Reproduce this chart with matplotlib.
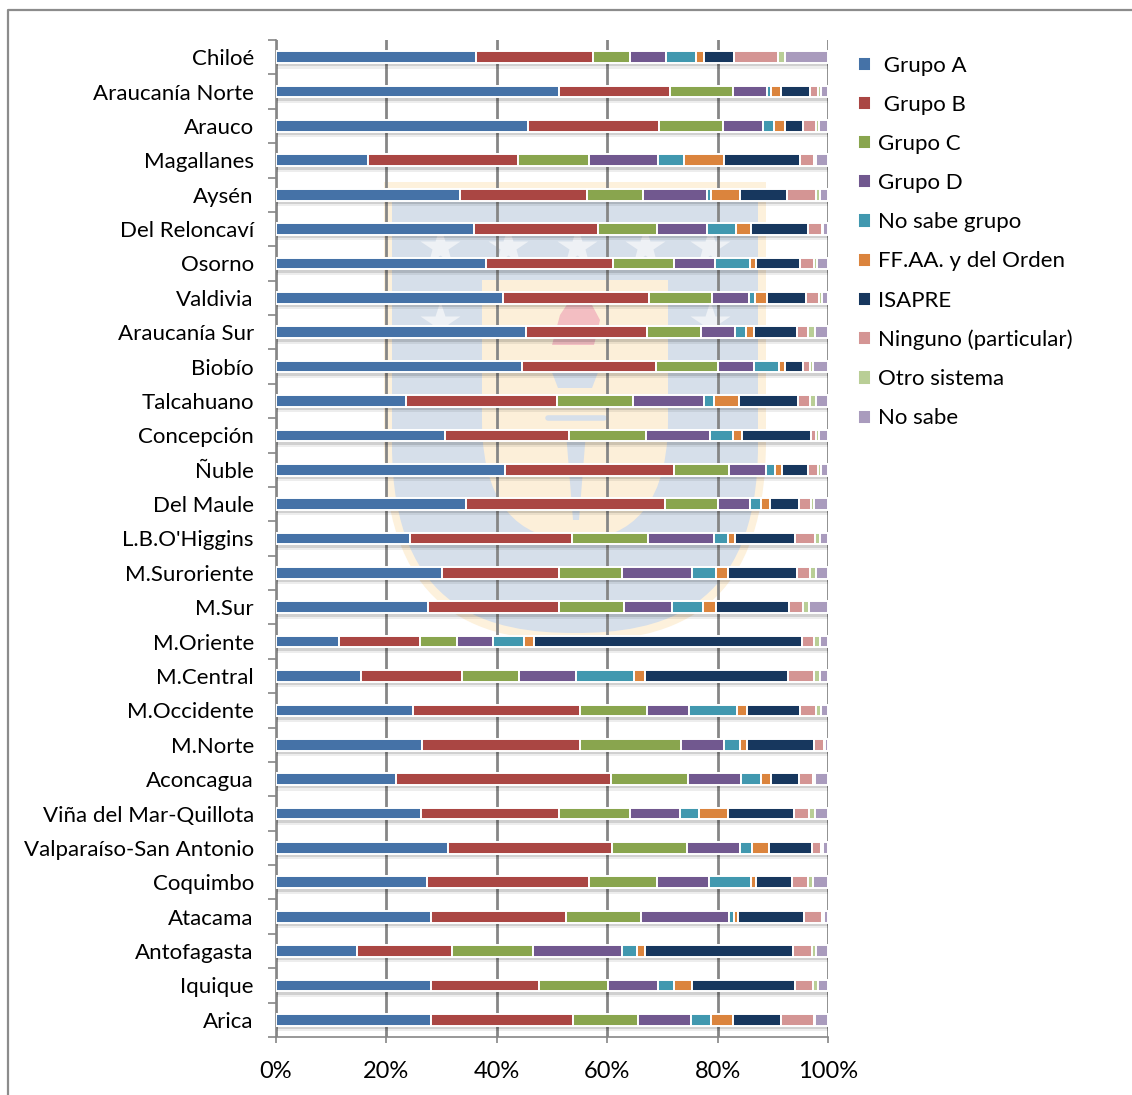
import numpy as np
import matplotlib
matplotlib.use("Agg")
import matplotlib.pyplot as plt
from matplotlib.path import Path
from matplotlib.patches import PathPatch

plt.rcParams["font.family"] = ["Lato", "DejaVu Sans"]

regions = [
    "Chiloé", "Araucanía Norte", "Arauco", "Magallanes", "Aysén",
    "Del Reloncaví", "Osorno", "Valdivia", "Araucanía Sur", "Biobío",
    "Talcahuano", "Concepción", "Ñuble", "Del Maule", "L.B.O'Higgins",
    "M.Suroriente", "M.Sur", "M.Oriente", "M.Central", "M.Occidente",
    "M.Norte", "Aconcagua", "Viña del Mar-Quillota", "Valparaíso-San Antonio",
    "Coquimbo", "Atacama", "Antofagasta", "Iquique", "Arica",
]

grupo_a = [36.3, 51.3, 45.6, 16.7, 33.4, 35.9, 38.1, 41.1, 45.3, 44.5,
           23.6, 30.6, 41.4, 34.4, 24.2, 30.1, 27.6, 11.5, 15.4, 24.8,
           26.5, 21.8, 26.3, 31.1, 27.3, 28.1, 14.7, 28.1, 28.1]
grupo_b = [21.1, 20.0, 23.7, 27.2, 23.0, 22.5, 23.0, 26.5, 21.9, 24.3,
           27.3, 22.5, 30.7, 36.1, 29.5, 21.1, 23.6, 14.5, 18.3, 30.2,
           28.6, 38.9, 25.0, 29.7, 29.4, 24.5, 17.1, 19.5, 25.7]
grupo_c = [6.7, 11.4, 11.6, 12.8, 10.0, 10.6, 11.0, 11.4, 9.8, 11.3,
           13.7, 14.0, 9.9, 9.6, 13.7, 11.5, 11.9, 6.7, 10.4, 12.3,
           18.2, 13.9, 12.9, 13.6, 12.3, 13.6, 14.8, 12.6, 11.8]
grupo_d = [6.5, 6.3, 7.3, 12.5, 11.6, 9.1, 7.4, 6.6, 6.2, 6.5,
           12.9, 11.5, 6.8, 5.7, 11.9, 12.7, 8.7, 6.7, 10.3, 7.6,
           7.9, 9.7, 9.0, 9.6, 9.4, 15.8, 16.1, 9.0, 9.6]
no_sabe_grupo = [5.5, 0.7, 2.1, 4.7, 0.8, 5.3, 6.3, 1.2, 2.0, 4.6,
                 1.8, 4.1, 1.6, 2.1, 2.5, 4.4, 5.5, 5.6, 10.5, 8.7,
                 2.8, 3.5, 3.5, 2.3, 7.6, 1.0, 2.7, 2.9, 3.6]
ffaa = [1.4, 1.8, 1.9, 7.2, 5.2, 2.7, 1.2, 2.1, 1.4, 1.0,
        4.6, 1.8, 1.3, 1.6, 1.4, 2.1, 2.5, 1.8, 2.0, 1.8,
        1.4, 1.8, 5.2, 3.1, 0.9, 0.7, 1.5, 3.3, 3.9]
isapre = [5.4, 5.2, 3.3, 13.9, 8.5, 10.2, 8.0, 7.2, 7.7, 3.2,
          10.7, 12.4, 4.7, 5.3, 10.9, 12.4, 13.2, 48.4, 25.9, 9.6,
          12.0, 5.2, 11.9, 7.7, 6.6, 11.9, 26.8, 18.6, 8.8]
ninguno = [8.1, 1.5, 2.4, 2.4, 5.4, 2.6, 2.4, 2.3, 2.1, 1.3,
           2.1, 0.9, 1.8, 2.1, 3.5, 2.5, 2.4, 2.3, 4.7, 2.9,
           1.8, 2.5, 2.8, 1.6, 2.9, 3.4, 3.4, 3.3, 6.0]
otro_sistema = [1.2, 0.5, 0.5, 0.5, 0.7, 0.2, 0.6, 0.5, 1.2, 0.6,
                1.2, 0.6, 0.5, 0.5, 1.0, 1.0, 1.2, 1.0, 1.1, 0.8,
                0.2, 0.3, 1.0, 0.4, 0.9, 0.3, 0.7, 0.9, 0.2]
no_sabe = [7.8, 1.3, 1.6, 2.1, 1.4, 0.9, 2.0, 1.1, 2.4, 2.7,
           2.1, 1.6, 1.3, 2.6, 1.4, 2.2, 3.4, 1.5, 1.4, 1.3,
           0.6, 2.4, 2.4, 0.9, 2.7, 0.7, 2.2, 1.8, 2.3]

series_names = [" Grupo A", " Grupo B", "Grupo C", "Grupo D", "No sabe grupo",
                "FF.AA. y del Orden", "ISAPRE", "Ninguno (particular)",
                "Otro sistema", "No sabe"]
series = [grupo_a, grupo_b, grupo_c, grupo_d, no_sabe_grupo, ffaa, isapre,
          ninguno, otro_sistema, no_sabe]
colors = ["#4572A7", "#AA4643", "#89A54E", "#71588F", "#4198AF",
          "#DB843D", "#17375E", "#D49594", "#B9CE96", "#A99BBD"]

W, H = 1132, 1095
fig = plt.figure(figsize=(W / 100, H / 100), dpi=100)

# background layer in pixel coordinates: chart frame and faint crest
bg = fig.add_axes([0, 0, 1, 1], zorder=-1)
bg.set_xlim(0, W)
bg.set_ylim(H, 0)
bg.axis("off")
bg.plot([8, 8, W + 5], [H + 5, 10, 10], color="#8C8C8C", lw=1.6)


def shield(x0, x1, ytop, yside, ybot):
    xm = (x0 + x1) / 2
    verts = [(x0, ytop), (x1, ytop), (x1, yside),
             (x1, ybot - 20), (xm + (x1 - xm) * 0.45, ybot), (xm, ybot),
             (xm - (xm - x0) * 0.45, ybot), (x0, ybot - 20), (x0, yside),
             (x0, ytop)]
    codes = [Path.MOVETO, Path.LINETO, Path.LINETO,
             Path.CURVE4, Path.CURVE4, Path.CURVE4,
             Path.CURVE4, Path.CURVE4, Path.CURVE4, Path.CLOSEPOLY]
    return Path(verts, codes)


bg.add_patch(PathPatch(shield(384, 766, 182, 440, 641), fc="#FDF1DC", ec="none"))
bg.add_patch(PathPatch(shield(392, 758, 188, 445, 633), fc="#D6DFEA", ec="none"))
bg.add_patch(PathPatch(shield(482, 668, 280, 420, 540), fc="#FCEFD9", ec="none"))
for sx, sy in [(440, 247), (508, 247), (577, 247), (645, 247), (710, 247),
               (440, 322), (710, 322)]:
    bg.plot(sx, sy, marker="*", ms=30, color="#EEF1F5", mec="none")
# torch: flame, cup and handle
bg.fill([552, 560, 570, 580, 592, 600, 594, 556], [345, 315, 300, 292, 305, 320, 345, 345],
        color="#F3BEC2", lw=0)
bg.fill([548, 602, 592, 558], [362, 362, 388, 388], color="#D6DFEA", lw=0)
bg.plot([548, 604], [418, 418], color="#D6DFEA", lw=4, solid_capstyle="round")
bg.fill([566, 586, 579, 573], [432, 432, 520, 520], color="#D6DFEA", lw=0)

ax = fig.add_axes([276 / W, 1 - 1037 / H, (828 - 276) / W, (1037 - 40) / H], zorder=0)
ax.patch.set_visible(False)

y = np.arange(len(regions))
data = np.array(series)
data = data / data.sum(axis=0) * 100
bar_h = 0.34

# soft drop shadow below each bar
ax.barh(y + 0.13, 100, height=bar_h + 0.06, color="#000000", alpha=0.07, lw=0, zorder=2)
ax.barh(y + 0.10, 100, height=bar_h, color="#000000", alpha=0.12, lw=0, zorder=2)

left = np.zeros(len(regions))
for vals, name, c in zip(data, series_names, colors):
    ax.barh(y, vals, left=left, height=bar_h, color=c, edgecolor="white",
            linewidth=1.4, label=name, zorder=3)
    left += vals

ax.set_xlim(0, 100)
ax.set_ylim(len(regions) - 0.5, -0.5)
ax.set_xticks(np.arange(0, 101, 20))
ax.set_xticklabels([f"{v}%" for v in range(0, 101, 20)])
ax.set_yticks(y)
ax.set_yticklabels(regions)
ax.set_yticks(np.arange(-0.5, len(regions), 1), minor=True)
ax.grid(axis="x", color="#868686", linewidth=2, zorder=1)
ax.set_axisbelow(True)

for side in ["top", "right"]:
    ax.spines[side].set_visible(False)
for side in ["left", "bottom"]:
    ax.spines[side].set_color("#868686")
    ax.spines[side].set_linewidth(1.2)

ax.tick_params(axis="y", which="major", length=0, pad=16, labelsize=16)
ax.tick_params(axis="y", which="minor", length=6, width=1.2, color="#868686")
ax.tick_params(axis="x", length=4, width=1.2, color="#868686", pad=13, labelsize=17)

leg = ax.legend(loc="upper left", bbox_to_anchor=(849 / W, 1 - 47 / H),
                bbox_transform=fig.transFigure, frameon=False, fontsize=16,
                handlelength=0.6, handleheight=0.6, handletextpad=0.3,
                labelspacing=0.86, borderaxespad=0)

fig.savefig("out.png", dpi=100)
